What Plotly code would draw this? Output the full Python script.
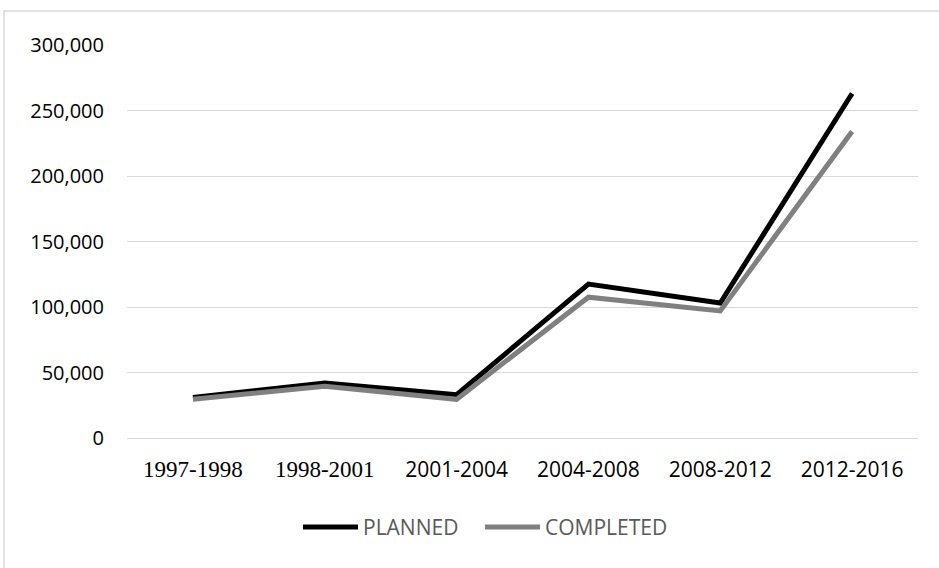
import plotly.graph_objects as go

periods = ["1997-1998", "1998-2001", "2001-2004", "2004-2008", "2008-2012", "2012-2016"]
# the first two period labels are set in a serif face
period_labels = [
    "<span style='font-family:Liberation Serif;font-size:23px'>1997-1998</span>",
    "<span style='font-family:Liberation Serif;font-size:23px'>1998-2001</span>",
    "2001-2004", "2004-2008", "2008-2012", "2012-2016",
]
series_names = ["PLANNED", "COMPLETED"]
planned = [31000, 42000, 33000, 117500, 103000, 263000]
completed = [29500, 39500, 29500, 107500, 97000, 234000]
series_colors = ["#000000", "#808080"]
y_ticks = [0, 50000, 100000, 150000, 200000, 250000, 300000]

W, H = 939, 568
L, R, T, B = 127, 21, 45, 130
pw, ph = W - L - R, H - T - B


def px_x(x):
    return (x - L) / pw


def px_y(y):
    return (T + ph - y) / ph


fig = go.Figure()
for name, vals, col in zip(series_names, [planned, completed], series_colors):
    fig.add_trace(go.Scatter(x=periods, y=vals, name=name, mode="lines",
                             line=dict(color=col, width=5), showlegend=False))

# light frame around the whole chart
fig.add_shape(type="rect", xref="paper", yref="paper",
              x0=px_x(4), x1=px_x(W + 10), y0=px_y(H + 10), y1=px_y(11),
              line=dict(color="#d9d9d9", width=1.5), fillcolor="rgba(0,0,0,0)", layer="below")

# legend below the plot: line swatch followed by the series name
legend_y = 527
legend_x = [303, 485]
for name, col, x0 in zip(series_names, series_colors, legend_x):
    fig.add_shape(type="line", xref="paper", yref="paper",
                  x0=px_x(x0), x1=px_x(x0 + 55), y0=px_y(legend_y), y1=px_y(legend_y),
                  line=dict(color=col, width=5))
    fig.add_annotation(xref="paper", yref="paper", x=px_x(x0 + 58), y=px_y(legend_y),
                       text=name, showarrow=False, xanchor="left", yanchor="middle",
                       font=dict(size=21, color="#595959", family="Open Sans"))

fig.update_layout(
    width=W, height=H,
    margin=dict(l=L, r=R, t=T, b=B),
    paper_bgcolor="white", plot_bgcolor="white",
    font=dict(family="Open Sans", color="#000000"),
    showlegend=False,
)
fig.update_xaxes(
    type="category", tickvals=periods, ticktext=period_labels,
    tickfont=dict(size=21, color="#000000"), showgrid=False, showline=False,
    ticks="", ticklabelstandoff=17, range=[-0.5, 5.5],
)
fig.update_yaxes(
    range=[0, 300000], tickvals=y_ticks, tickformat=",",
    tickfont=dict(size=20, color="#000000"),
    showgrid=True, gridcolor="#d9d9d9", gridwidth=1,
    zeroline=True, zerolinecolor="#d9d9d9", zerolinewidth=1,
    showline=False, ticks="", ticklabelstandoff=22,
)

fig.write_html("out.html")
